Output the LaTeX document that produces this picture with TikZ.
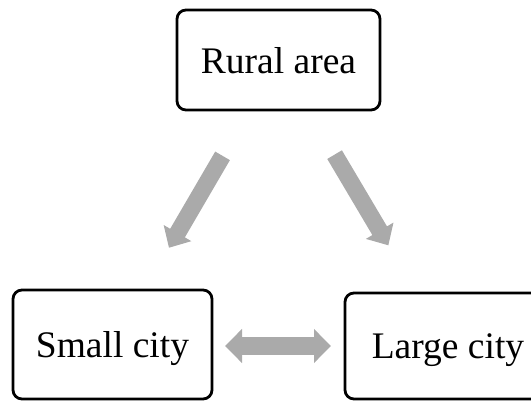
\documentclass[tikz,border=0pt]{standalone}
\usepackage{fontspec}
\setmainfont{Liberation Serif}
\usetikzlibrary{arrows.meta}
\definecolor{arrowgray}{RGB}{170,170,170}
\begin{document}
\begin{tikzpicture}[x=1pt,y=-1pt,
  place/.style={draw=black, line width=2.8pt, rounded corners=9pt, outer sep=0pt,
    font=\fontsize{37.5}{40}\selectfont, text depth=0pt, inner sep=0pt},
  flow/.style={draw=arrowgray, line width=17pt, -{Triangle[width=31pt,length=17pt]}},
  both/.style={draw=arrowgray, line width=18pt,
    {Triangle[width=33pt,length=17pt]}-{Triangle[width=33pt,length=17pt]}}]
\useasboundingbox (0,0) rectangle (531,403);
\clip (0,0) rectangle (531,403);
\node[place, minimum width=203pt, minimum height=100pt] (rural) at (278.5,60) {Rural area};
\node[place, minimum width=199pt, minimum height=109pt] (small) at (112.5,344.5) {Small city};
\node[place, minimum width=206pt, minimum height=106pt] (large) at (448,346) {Large city};
\draw[flow, shorten <=111pt, shorten >=112pt] (rural.center) -- (small.center);
\draw[flow, shorten <=110pt, shorten >=117pt] (rural.center) -- (large.center);
\draw[both, shorten <=13pt, shorten >=14pt] (small.east |- large.west) -- (large.west);
\end{tikzpicture}
\end{document}
